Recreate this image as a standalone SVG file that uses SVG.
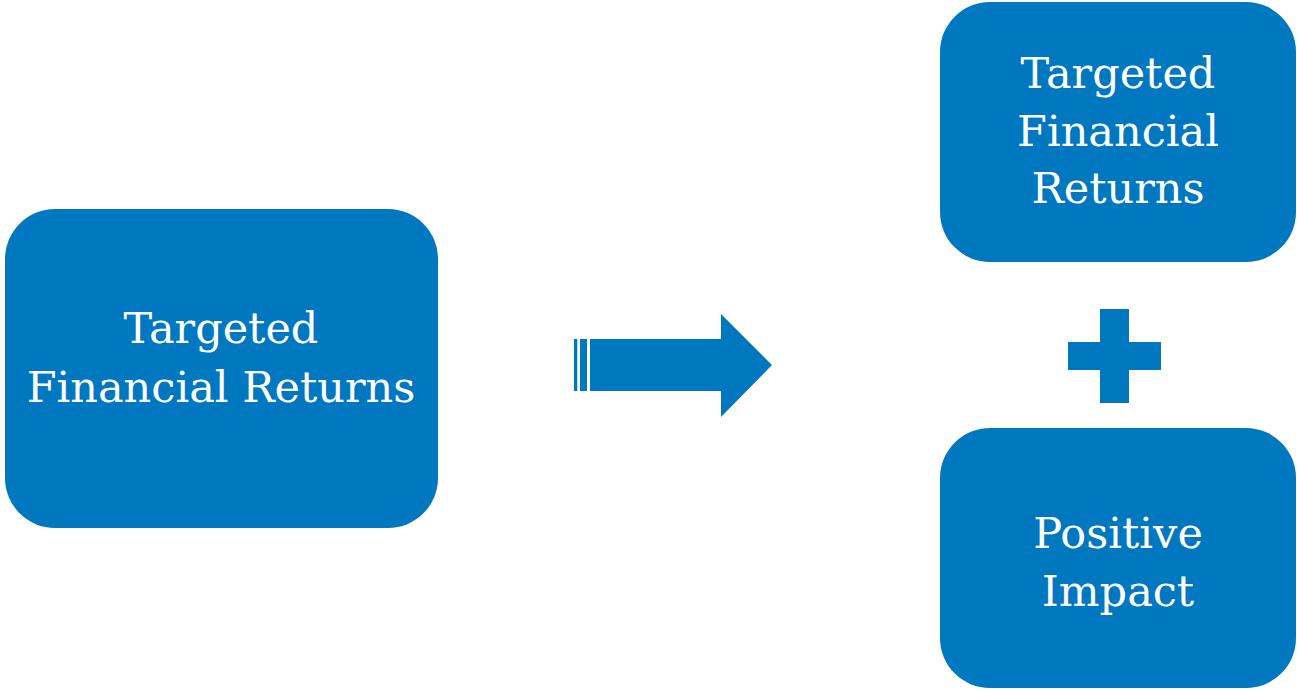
<svg xmlns="http://www.w3.org/2000/svg" width="1297" height="691" viewBox="0 0 1297 691">
<style>
.box{fill:#0078BF;}
.lbl{fill:#FFFFFF;font-family:"DejaVu Serif","Liberation Serif",serif;font-size:43px;text-anchor:middle;}
.shape{fill:#0078BF;}
</style>
<rect width="1297" height="691" fill="#FFFFFF"/>
<g id="node-left">
<rect class="box" x="5" y="209" width="433" height="319" rx="50" ry="50"/>
<text class="lbl" x="221" y="343">Targeted</text>
<text class="lbl" x="221" y="402">Financial Returns</text>
</g>
<g id="node-top">
<rect class="box" x="940" y="2" width="356" height="260" rx="50" ry="50"/>
<text class="lbl" x="1118" y="88">Targeted</text>
<text class="lbl" x="1118" y="146">Financial</text>
<text class="lbl" x="1118" y="203">Returns</text>
</g>
<g id="node-bottom">
<rect class="box" x="940" y="428" width="356" height="260" rx="50" ry="50"/>
<text class="lbl" x="1118" y="548">Positive</text>
<text class="lbl" x="1118" y="606">Impact</text>
</g>
<g id="connectors">
<rect class="shape" x="574" y="339" width="3.3" height="52"/>
<rect class="shape" x="580" y="339" width="7" height="52"/>
<polygon class="shape" points="590,339 721,339 721,314 772,365 721,417 721,391 590,391"/>
</g>
<g id="plus">
<polygon class="shape" points="1100,309 1129,309 1129,342 1161,342 1161,370 1129,370 1129,403 1100,403 1100,370 1068,370 1068,342 1100,342"/>
</g>
</svg>
